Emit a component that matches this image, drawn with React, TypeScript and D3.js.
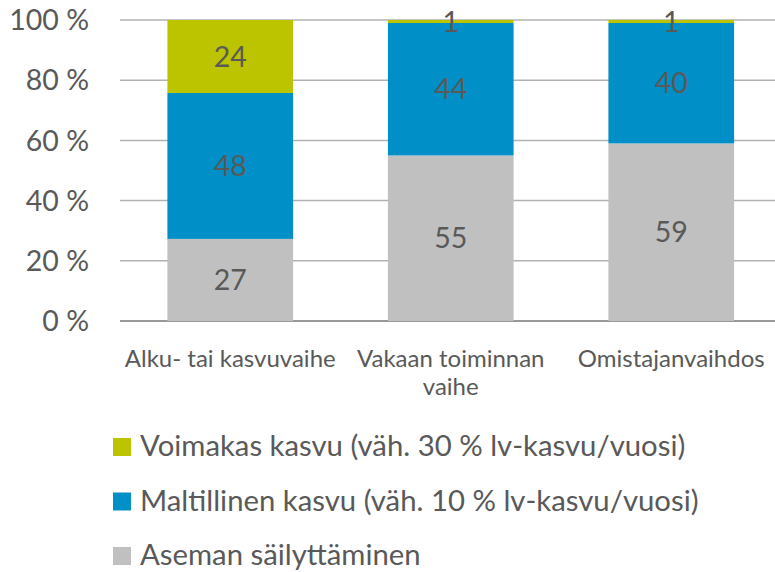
import React from "react";
import { scaleBand, scaleLinear, stack, stackOffsetExpand } from "d3";

const categories = ["Alku- tai kasvuvaihe", "Vakaan toiminnan vaihe", "Omistajanvaihdos"];
const categoryLines = [["Alku- tai kasvuvaihe"], ["Vakaan toiminnan", "vaihe"], ["Omistajanvaihdos"]];
const seriesNames = [
  "Aseman säilyttäminen",
  "Maltillinen kasvu (väh. 10 % lv-kasvu/vuosi)",
  "Voimakas kasvu (väh. 30 % lv-kasvu/vuosi)",
];
const sailyttaminen = [27, 55, 59];
const maltillinen = [48, 44, 40];
const voimakas = [24, 1, 1];
const yTicks = [0, 0.2, 0.4, 0.6, 0.8, 1];

const colors = ["#C0C0C0", "#008FC7", "#BCC400"];
const textColor = "#595959";
const font = "Lato, 'Open Sans', sans-serif";

export default function App() {
  const width = 775;
  const height = 572;
  const plot = { left: 120, right: 781.5, top: 20, bottom: 321 };

  const rows = categories.map((c, i) => ({
    cat: c,
    s0: sailyttaminen[i],
    s1: maltillinen[i],
    s2: voimakas[i],
  }));
  const series = stack<any>().keys(["s0", "s1", "s2"]).offset(stackOffsetExpand)(rows);

  const x = scaleBand().domain(categories).range([plot.left, plot.right]).paddingInner(0.43).paddingOuter(0.215);
  const y = scaleLinear().domain([0, 1]).range([plot.bottom, plot.top]);

  // legend is listed top-down in reverse series order
  const legendOrder = [2, 1, 0];

  return (
    <svg
      width={width}
      height={height}
      style={{ position: "absolute", left: 0, top: 0, background: "#fff" }}
      fontFamily={font}
    >
      {yTicks.map((t) => (
        <g key={t}>
          <line
            x1={plot.left}
            x2={width}
            y1={y(t)}
            y2={y(t)}
            stroke={t === 0 ? "#999999" : "#B2B2B2"}
            strokeWidth={t === 0 ? 2 : 1.5}
          />
          <text x={89} y={y(t)} dy="0.36em" textAnchor="end" fontSize={28.5} fill={textColor}>
            {`${Math.round(t * 100)} %`}
          </text>
        </g>
      ))}

      {series.map((s, si) => (
        <g key={s.key} fill={colors[si]}>
          {s.map((d, i) => (
            <rect
              key={i}
              x={x(d.data.cat)}
              width={x.bandwidth()}
              y={y(d[1])}
              height={y(d[0]) - y(d[1])}
            />
          ))}
        </g>
      ))}

      {series.map((s) =>
        s.map((d, i) => (
          <text
            key={s.key + i}
            x={(x(d.data.cat) ?? 0) + x.bandwidth() / 2}
            y={(y(d[0]) + y(d[1])) / 2}
            dy="0.36em"
            textAnchor="middle"
            fontSize={28.5}
            fill={textColor}
          >
            {d.data[s.key]}
          </text>
        ))
      )}

      {categoryLines.map((lines, i) => (
        <text
          key={i}
          x={(x(categories[i]) ?? 0) + x.bandwidth() / 2}
          y={367}
          textAnchor="middle"
          fontSize={24}
          fill={textColor}
        >
          {lines.map((l, li) => (
            <tspan key={li} x={(x(categories[i]) ?? 0) + x.bandwidth() / 2} dy={li === 0 ? 0 : 28}>
              {l}
            </tspan>
          ))}
        </text>
      ))}

      {legendOrder.map((si, k) => (
        <g key={si} transform={`translate(113,${438 + k * 54.5})`}>
          <rect width={18} height={18} fill={colors[si]} />
          <text x={27} y={18} fontSize={29.3} fill={textColor}>
            {seriesNames[si]}
          </text>
        </g>
      ))}
    </svg>
  );
}
